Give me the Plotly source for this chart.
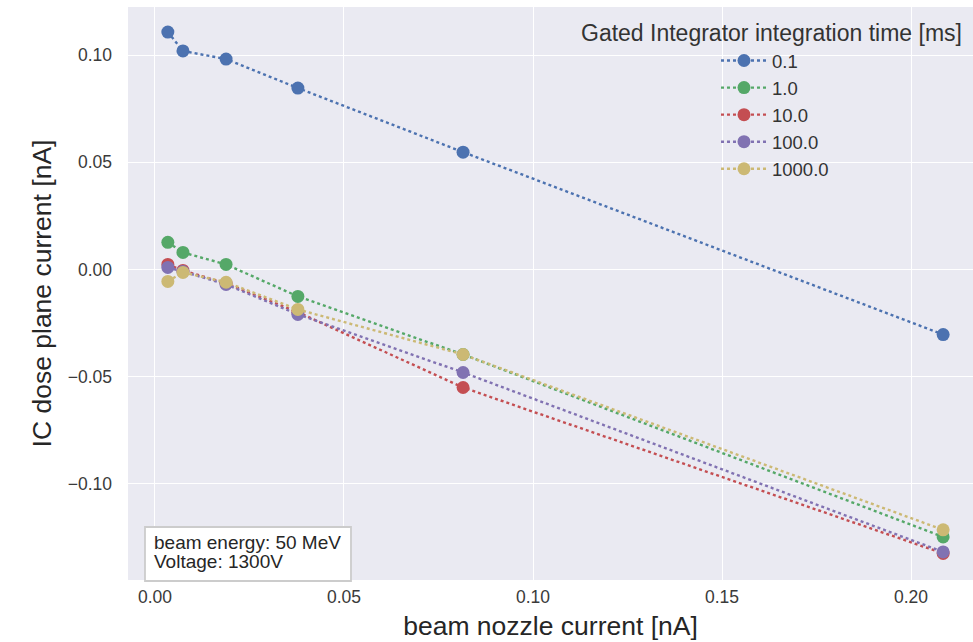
import plotly.graph_objects as go

# Data
beam_nozzle_current = [0.0034, 0.0074, 0.0188, 0.0378, 0.0815, 0.2085]
series_names = ["0.1", "1.0", "10.0", "100.0", "1000.0"]
ic_01 = [0.1107, 0.1019, 0.0981, 0.0846, 0.0547, -0.0304]
ic_1 = [0.0126, 0.0079, 0.0023, -0.0126, -0.0397, -0.1248]
ic_10 = [0.0023, -0.0005, -0.0065, -0.0200, -0.0551, -0.1325]
ic_100 = [0.0009, -0.0010, -0.0070, -0.0210, -0.0481, -0.1318]
ic_1000 = [-0.0056, -0.0014, -0.0060, -0.0187, -0.0397, -0.1215]
colors = ["#4C72B0", "#55A868", "#C44E52", "#8172B2", "#CCB974"]
x_ticks = [0.0, 0.05, 0.10, 0.15, 0.20]
x_ticktext = ["0.00", "0.05", "0.10", "0.15", "0.20"]
y_ticks = [-0.10, -0.05, 0.0, 0.05, 0.10]
y_ticktext = ["\u22120.10", "\u22120.05", "0.00", "0.05", "0.10"]
info_lines = ["beam energy: 50 MeV", "Voltage: 1300V"]

series_values = [ic_01, ic_1, ic_10, ic_100, ic_1000]

fig = go.Figure()
for name, vals, col in zip(series_names, series_values, colors):
    fig.add_trace(go.Scatter(
        x=beam_nozzle_current, y=vals, name=name, mode="lines+markers",
        line=dict(color=col, width=2.4, dash="dot"),
        marker=dict(color=col, size=13),
    ))

font_main = "Liberation Sans, Arial, sans-serif"
W, H = 973, 642
L, R, T, B = 128, 0, 7, 62
pw, ph = W - L - R, H - T - B

def px_x(p):
    return (p - L) / pw

def px_y(p):
    return (H - B - p) / ph

fig.update_layout(
    width=W, height=H,
    margin=dict(l=L, r=R, t=T, b=B),
    paper_bgcolor="white",
    plot_bgcolor="#EAEAF2",
    font=dict(family=font_main, color="#333333", size=17),
    showlegend=True,
    legend=dict(
        x=px_x(716), y=px_y(42), xanchor="left", yanchor="top",
        bgcolor="rgba(0,0,0,0)", font=dict(size=18.5, color="#333333"),
        itemwidth=46,
    ),
    xaxis=dict(
        range=[-0.00714, 0.2164], tickvals=x_ticks, ticktext=x_ticktext,
        showgrid=True, gridcolor="white", gridwidth=1.4, zeroline=False,
        showline=False, ticks="", tickfont=dict(size=17.5, color="#3a3a3a"),
        ticklabelstandoff=4,
        title=dict(text="beam nozzle current [nA]",
                   font=dict(size=26.5, color="#262626"),
                   standoff=10),
    ),
    yaxis=dict(
        range=[-0.1449, 0.1224], tickvals=y_ticks, ticktext=y_ticktext,
        showgrid=True, gridcolor="white", gridwidth=1.4, zeroline=False,
        showline=False, ticks="", tickfont=dict(size=17.5, color="#3a3a3a"),
        ticklabelstandoff=15,
        title=dict(text="IC dose plane current [nA]",
                   font=dict(size=26.5, color="#262626"),
                   standoff=8),
    ),
    shapes=[
        dict(type="rect", xref="paper", yref="paper",
             x0=px_x(145), x1=px_x(351), y0=px_y(581), y1=px_y(527),
             fillcolor="white", line=dict(color="#CCCCCC", width=1.8), layer="above"),
    ],
    annotations=[
        dict(text="Gated Integrator integration time [ms]", xref="paper", yref="paper",
             x=px_x(964), y=px_y(33), xanchor="right", yanchor="middle", showarrow=False,
             font=dict(size=23, color="#333333")),
        dict(text=info_lines[0], xref="paper", yref="paper",
             x=px_x(152), y=px_y(542), xanchor="left", yanchor="middle", showarrow=False,
             font=dict(size=19, color="#262626")),
        dict(text=info_lines[1], xref="paper", yref="paper",
             x=px_x(152), y=px_y(561), xanchor="left", yanchor="middle", showarrow=False,
             font=dict(size=19, color="#262626")),
    ],
)

fig.write_html("out.html")
